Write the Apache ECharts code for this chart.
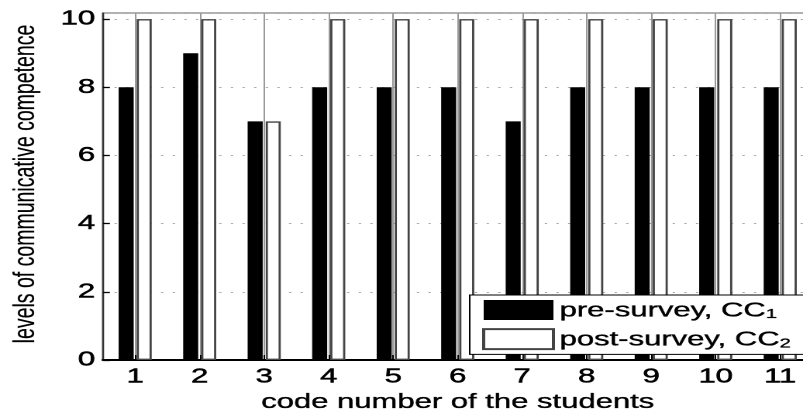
<!DOCTYPE html>
<html><head><meta charset="utf-8">
<script src="https://cdn.jsdelivr.net/npm/echarts@6/dist/echarts.min.js"></script>
<style>
html,body{margin:0;padding:0;width:803px;height:413px;overflow:hidden;background:#fff}
#wrap{width:803px;height:413px;overflow:hidden;position:relative}
#chart{width:518px;height:413px;transform:scaleX(1.5502);transform-origin:0 0}
</style></head><body><div id="wrap"><div id="chart"></div></div>
<script>
const students = ['1','2','3','4','5','6','7','8','9','10','11'];
const preSurvey = [8, 9, 7, 8, 8, 8, 7, 8, 8, 8, 8];
const postSurvey = [10, 10, 7, 10, 10, 10, 10, 10, 10, 10, 10];
const seriesNames = ['pre-survey, CC', 'post-survey, CC'];
const seriesSubs = ['1', '2'];
const yTickLabels = ['0','2','4','6','8','10'];
const xTitle = 'code number of the students';
const yTitle = 'levels of communicative competence';

const FONT = '"Liberation Sans", Arial, Helvetica, sans-serif';
const chart = echarts.init(document.getElementById('chart'), null, {renderer: 'canvas', devicePixelRatio: 2});
chart.setOption({
  animation: false,
  backgroundColor: '#fff',
  grid: {left: 66.4, right: -6.1, top: 13, bottom: 53, outerBoundsMode: 'none', containLabel: false,
         show: true, borderColor: '#666', borderWidth: 1, backgroundColor: 'transparent'},
  legend: {
    orient: 'vertical', left: 303, top: 295,
    itemWidth: 45, itemHeight: 20, itemGap: 7, icon: 'rect',
    padding: [5, 12, 4, 8],
    borderColor: '#000', borderWidth: 1, backgroundColor: '#fff',
    data: seriesNames,
    formatter: function (name) {
      const i = seriesNames.indexOf(name);
      return '{m|' + name + '}{s|' + seriesSubs[i] + '}';
    },
    textStyle: {
      padding: [0, 0, 0, -1],
      rich: {
        m: {fontFamily: FONT, fontSize: 20, color: '#000', lineHeight: 22, verticalAlign: 'bottom', textBorderColor: '#000', textBorderWidth: 0.35},
        s: {fontFamily: FONT, fontSize: 13, color: '#000', lineHeight: 13, verticalAlign: 'bottom', textBorderColor: '#000', textBorderWidth: 0.3}
      }
    }
  },
  xAxis: {
    type: 'category', data: students,
    name: xTitle, nameLocation: 'middle', nameGap: 28,
    nameTextStyle: {fontFamily: FONT, fontSize: 20, color: '#000', textBorderColor: '#000', textBorderWidth: 0.35},
    axisLine: {lineStyle: {color: '#000', width: 2}},
    axisTick: {show: true, inside: true, alignWithLabel: true, length: 5, lineStyle: {color: '#000', width: 1}},
    axisLabel: {fontFamily: FONT, fontSize: 20, color: '#000', margin: 7, textBorderColor: '#000', textBorderWidth: 0.5},
    splitLine: {show: true, alignWithLabel: true, lineStyle: {color: '#999', width: 1}}
  },
  yAxis: {
    type: 'value', min: 0, max: 10.18, interval: 2,
    name: yTitle, nameLocation: 'middle', nameGap: 40,
    nameTextStyle: {fontFamily: FONT, fontSize: 19.5, color: '#000', padding: [0, 0, 0, 5], textBorderColor: '#000', textBorderWidth: 0.15},
    axisLine: {show: true, lineStyle: {color: '#333', width: 1.3}},
    axisTick: {show: true, inside: true, length: 4.5, lineStyle: {color: '#000', width: 1.3}},
    axisLabel: {fontFamily: FONT, fontSize: 20, color: '#000', margin: 5, showMaxLabel: false, textBorderColor: '#000', textBorderWidth: 0.5,
      formatter: function (v) { return yTickLabels.indexOf(String(v)) >= 0 ? String(v) : ''; }},
    splitLine: {show: true, lineStyle: {color: '#aaa', width: 1, type: [1.5, 6]}}
  },
  series: [
    {name: seriesNames[0], type: 'bar', data: preSurvey, barWidth: 9.7, barGap: '20%',
     itemStyle: {color: '#000'}},
    {name: seriesNames[1], type: 'bar', data: postSurvey, barWidth: 9.7,
     itemStyle: {color: '#fff', borderColor: '#444', borderWidth: 1.4}}
  ]
});
</script></body></html>
